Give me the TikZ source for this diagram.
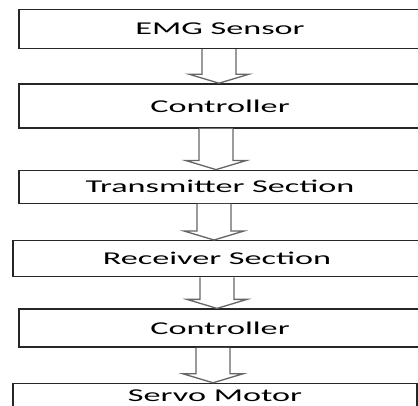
\documentclass[tikz,border=0pt]{standalone}
\usepackage{graphicx}
\usepackage{fontspec}
\setmainfont{Carlito}
\usepackage{tikz}
\usetikzlibrary{positioning, calc}

\newcommand{\wide}[1]{\scalebox{1.9}[1]{#1}}
% hollow block arrow from one stage down to the next
\newcommand{\flowarrow}[3]{%
  \draw[hollowarrow] let \p1=([xshift=#3pt]#1.south), \p2=(#2.north) in
    (\x1-17pt,\y1) -- (\x1-17pt,\y2+9pt) -- (\x1-30pt,\y2+9pt) -- (\x1,\y2)
    -- (\x1+30pt,\y2+9pt) -- (\x1+17pt,\y2+9pt) -- (\x1+17pt,\y1);}

\begin{document}
\begin{tikzpicture}[
    x=1pt, y=1pt,
    stage/.style={rectangle, draw=black!85, line width=1.4pt, minimum width=402pt, inner sep=0pt, font=\fontsize{18}{20}\selectfont},
    hollowarrow/.style={draw=black!60, line width=1.3pt, fill=white, line join=miter}
]
\useasboundingbox (0,0) rectangle (418,-406);
\clip (0,0) rectangle (418,-406);

\node[stage, minimum height=39pt] (emg) at (220,-29) {\wide{EMG Sensor}};
\node[stage, minimum height=44pt, below=34pt of emg] (ctrlA) {\wide{Controller}};
\node[stage, minimum height=33pt, below=41pt of ctrlA] (tx) {\wide{Transmitter Section}};
\node[stage, minimum height=36pt, minimum width=408pt, below=36pt of tx, xshift=-3pt] (rx) {\wide{Receiver Section}};
\node[stage, minimum height=38pt, below=31pt of rx, xshift=3pt] (ctrlB) {\wide{Controller}};
\node[stage, minimum height=31pt, text depth=6pt, minimum width=404pt, below=35pt of ctrlB, xshift=-5pt] (servo) {\wide{Servo Motor}};

\flowarrow{emg}{ctrlA}{-1}
\flowarrow{ctrlA}{tx}{-4}
\flowarrow{tx}{rx}{-6}
\flowarrow{rx}{ctrlB}{0}
\flowarrow{ctrlB}{servo}{-7}

\end{tikzpicture}
\end{document}
